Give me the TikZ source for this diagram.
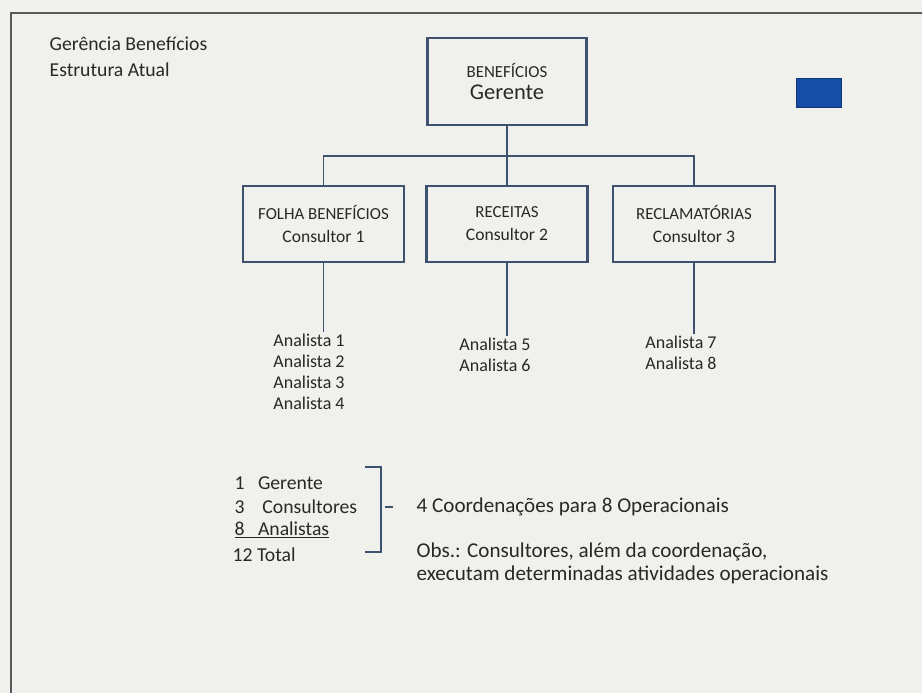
\documentclass[tikz,border=0pt]{standalone}
\usepackage{fontspec}
\setmainfont{Carlito}
\usepackage{xcolor}
\usepackage{tikz}
\usetikzlibrary{positioning, calc}

\definecolor{slidebg}{RGB}{240,240,237}
\definecolor{boxline}{RGB}{62,82,112}
\definecolor{inktext}{RGB}{40,40,40}
\definecolor{btnblue}{RGB}{22,78,168}

\begin{document}
\begin{tikzpicture}[
    x=0.025cm, y=-0.025cm,
    unitbox/.style={rectangle, draw=boxline, line width=1.7pt, fill=slidebg, align=center, text=inktext, inner sep=2pt, font=\fontsize{12.5}{16.4}\selectfont},
    link/.style={draw=boxline, line width=1.3pt},
    plain/.style={text=inktext, inner sep=1pt},
  ]

    % Slide
    \fill[slidebg] (0,0) rectangle (922,693);
    \useasboundingbox (0,0) rectangle (922,693);
    \draw[gray!70!black, line width=1.5pt] (11,693) -- (11,13) -- (922,13);

    % Title
    \node[plain, anchor=north west, align=left, font=\fontsize{14}{18.5}\selectfont] (title) at (48,35) {Gerência Benefícios\\Estrutura Atual};

    % Button
    \node[rectangle, draw=btnblue!70!black, fill=btnblue, minimum width=1.12cm, minimum height=0.72cm, inner sep=0pt] (btn) at (819,93) {};

    % Manager
    \node[unitbox, minimum width=3.975cm, minimum height=2.175cm, font=\fontsize{16}{15.6}\selectfont] (gerente) at (507,81.5) {{\fontsize{12}{15.6}\selectfont BENEFÍCIOS}\\Gerente};

    % Consultants
    \node[unitbox, minimum width=4.03cm, minimum height=1.9cm] (folha) at (323.5,224) {{\fontsize{12}{16.4}\selectfont FOLHA BENEFÍCIOS}\\Consultor 1};
    \node[unitbox, minimum width=4.03cm, minimum height=1.9cm] (receitas) at (507,224) {{\fontsize{12}{16.4}\selectfont RECEITAS}\\Consultor 2};
    \node[unitbox, minimum width=4.05cm, minimum height=1.9cm] (reclam) at (694,224) {{\fontsize{12}{16.4}\selectfont RECLAMATÓRIAS}\\Consultor 3};

    % Analysts
    \node[plain, anchor=north, align=center, font=\fontsize{12.8}{15}\selectfont] (an1) at (309,332) {Analista 1\\Analista 2\\Analista 3\\Analista 4};
    \node[plain, anchor=north, align=center, font=\fontsize{12.8}{15.5}\selectfont] (an2) at (495,336) {Analista 5\\Analista 6};
    \node[plain, anchor=north, align=center, font=\fontsize{12.8}{15}\selectfont] (an3) at (681,334) {Analista 7\\Analista 8};

    % Links
    \draw[link] (gerente.south) -- ++(0,30) -| (folha.north);
    \draw[link] (gerente.south) -- ++(0,30) -| (reclam.north);
    \draw[link] (gerente.south) -- (receitas.north);
    \draw[link] (folha.south) -- (folha.south |- an1.north);
    \draw[link] (receitas.south) -- (receitas.south |- an2.north);
    \draw[link] (reclam.south) -- (reclam.south |- an3.north);

    % Totals
    \node[plain, anchor=west, font=\fontsize{14}{15}\selectfont] (cgerente) at (233,483) {1~~~Gerente};
    \node[plain, anchor=west, font=\fontsize{14}{15}\selectfont] (cconsult) at (233,507) {3~~~~Consultores};
    \node[plain, anchor=west, font=\fontsize{14}{15}\selectfont] (canalist) at (233,530) {\underline{8~~~Analistas}};
    \node[plain, anchor=west, font=\fontsize{14}{15}\selectfont] (ctotal) at (231,555) {12 Total};

    % Bracket
    \coordinate (brtop) at (381,467);
    \coordinate (brbot) at (381,552);
    \coordinate (brmid) at (385,507);
    \draw[link, line width=1pt] (brtop) ++(-16,0) -- (brtop) -- (brbot) -- ++(-16,0);
    \draw[link, line width=1pt] (brmid) -- ++(8,0);

    % Notes
    \node[plain, anchor=west, font=\fontsize{15}{16.4}\selectfont] (coord) at (415,507) {4 Coordenações para 8 Operacionais};
    \node[plain, anchor=north west, align=left, font=\fontsize{15}{16.4}\selectfont] (obs) at (415,541) {Obs.: Consultores, além da coordenação,\\executam determinadas atividades operacionais};

  \end{tikzpicture}
\end{document}
